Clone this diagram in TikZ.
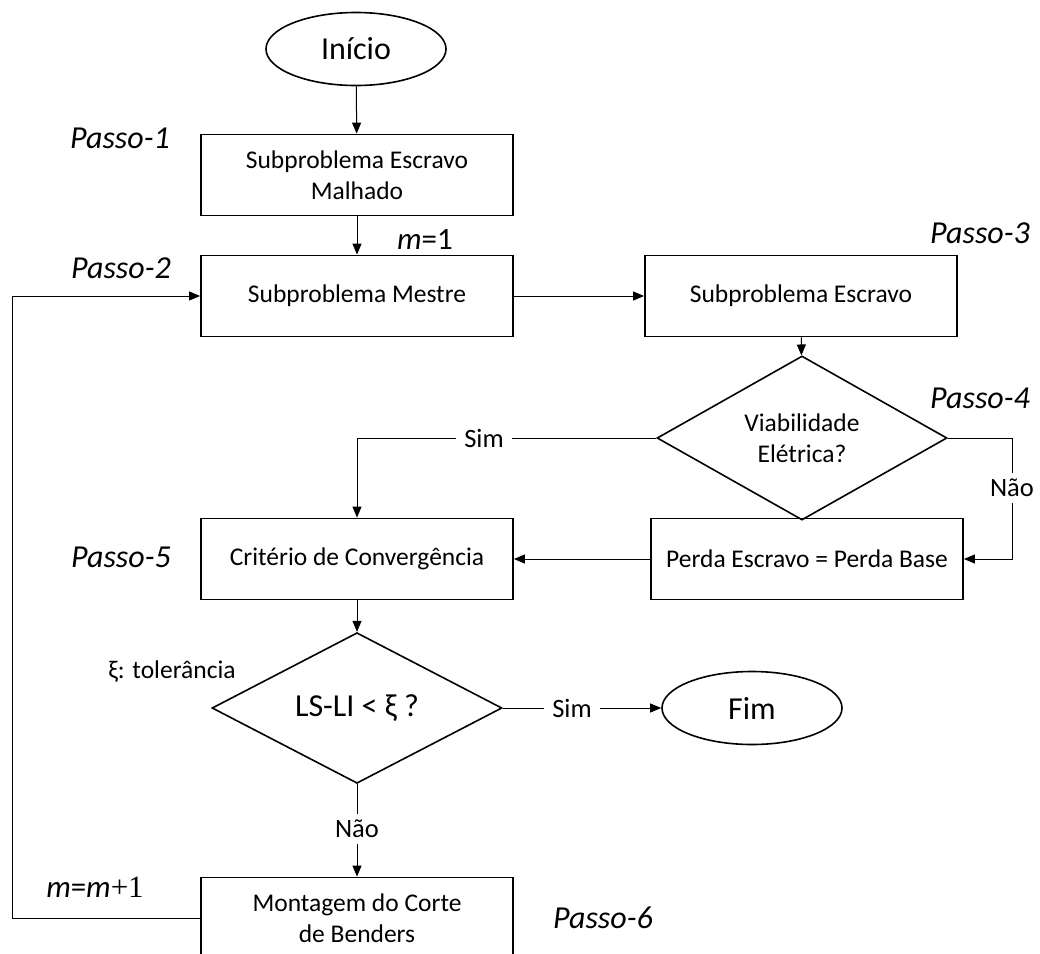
\documentclass[tikz,border=0pt]{standalone}
\usepackage{fontspec}
\setmainfont{Carlito}
\newfontfamily\timesfont{Liberation Serif}
\usetikzlibrary{positioning, shapes.geometric, arrows.meta}

\begin{document}
\begin{tikzpicture}[x=1pt, y=-1pt]
\tikzstyle{block} = [rectangle, draw, line width=1.8pt, minimum width=312pt,
    minimum height=81pt, align=center, inner sep=0pt,
    font=\fontsize{25.5}{31}\selectfont]
\tikzstyle{decision} = [diamond, draw, line width=1.6pt, minimum width=290pt,
    minimum height=130pt, inner sep=0pt, align=center]
\tikzstyle{terminal} = [ellipse, draw, line width=1.6pt, minimum width=180pt,
    minimum height=73pt, font=\fontsize{32}{38}\selectfont]
\tikzstyle{steplabel} = [font=\fontsize{32}{38}\selectfont\itshape]
\tikzstyle{tag} = [inner xsep=8pt, inner ysep=6pt, font=\fontsize{26.5}{31}\selectfont]
\tikzstyle{line} = [draw, line width=1pt, -{Triangle[length=11pt, width=9pt]}]
\tikzstyle{plain} = [draw, line width=1pt]

\useasboundingbox (0,0) rectangle (1040,953);

\node (ini) [terminal] at (356,49) {Início};
\node (s1) [block] at (357,175) {Subproblema Escravo\\Malhado};
\node (mestre) [block] at (357,296) {Subproblema Mestre};
\node (escravo) [block] at (801,296) {Subproblema Escravo};
\node (viab) [decision, font=\fontsize{25.5}{31}\selectfont] at (802,438) {Viabilidade\\Elétrica?};
\node (perda) [block] at (807,559) {Perda Escravo = Perda Base};
\node (crit) [block] at (357,559) {Critério de Convergência};
\node (lsli) [decision, font=\fontsize{32}{36}\selectfont] at (357,708) {LS-LI < ξ ?};
\node (fim) [terminal] at (752,708) {Fim};
\node (mont) [block] at (357,918) {Montagem do Corte\\de Benders};

% step labels
\node (p1) [steplabel] at (120,138) {Passo-1};
\node (p2) [steplabel] at (121,268) {Passo-2};
\node (p3) [steplabel] at (980,233) {Passo-3};
\node (p4) [steplabel] at (980,398) {Passo-4};
\node (p5) [steplabel] at (121,557) {Passo-5};
\node (p6) [steplabel] at (603,918) {Passo-6};

\node (m1) [font=\fontsize{31}{36}\selectfont] at (425,240) {\textit{m}=1};
\node (mm) [font=\fontsize{31}{36}\selectfont] at (95,887) {\textit{m}=\textit{m}{\timesfont+1}};
\node (tol) [font=\fontsize{25.5}{30}\selectfont] at (172,672) {ξ: tolerância};

\node (simA) [tag] at (484,438) {Sim};
\node (naoA) [tag] at (1012,488) {Não};
\node (simB) [tag] at (572,708) {Sim};
\node (naoB) [tag] at (357,829) {Não};
\coordinate (loop) at (12,918);

\path[line] (ini) -- (s1);
\path[line] (s1) -- (mestre);
\path[line] (mestre) -- (escravo);
\path[line] (escravo) -- (viab);
\path[plain] (viab.west) -- (simA.east);
\path[line] (simA.west) -| (crit.north);
\path[plain] (viab.east) -| (naoA.north);
\path[line] (naoA.south) |- (perda.east);
\path[line] (perda) -- (crit);
\path[line] (crit) -- (lsli);
\path[plain] (lsli.east) -- (simB.west);
\path[line] (simB.east) -- (fim);
\path[plain] (lsli.south) -- (naoB.north);
\path[line] (naoB.south) -- (mont);
\path[line] (mont.west) -- (loop) |- (mestre.west);
\end{tikzpicture}
\end{document}
